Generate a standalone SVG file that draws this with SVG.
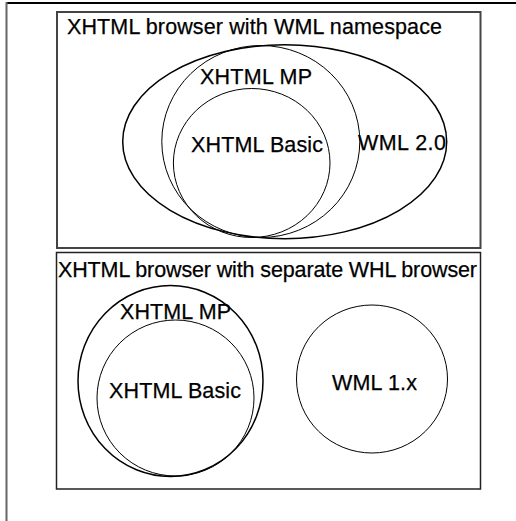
<svg xmlns="http://www.w3.org/2000/svg" width="516" height="521" viewBox="0 0 516 521">
<style>
text{font-family:"Liberation Sans",Arial,sans-serif;font-size:21.5px;fill:#000;stroke:#000;stroke-width:0.25}
.box{fill:none}
.set{fill:none;stroke:#000}
.thick{stroke-width:1.5}
.thin{stroke-width:1}
</style>
<rect width="516" height="521" fill="#fff"/>
<g id="frame">
<line x1="6" y1="3" x2="516" y2="3" stroke="#000" stroke-width="2"/>
<line x1="6.5" y1="2" x2="6.5" y2="521" stroke="#666" stroke-width="2"/>
</g>
<g id="box-namespace">
<rect class="box" x="57" y="12" width="423.5" height="236" stroke="#444" stroke-width="2"/>
<text x="67" y="34" textLength="375">XHTML browser with WML namespace</text>
</g>
<g id="wml20">
<ellipse class="set thick" cx="284.7" cy="141.7" rx="162" ry="97"/>
<text x="358" y="150" textLength="88">WML 2.0</text>
</g>
<g id="xhtmlmp-top">
<ellipse class="set thin" cx="260.8" cy="141.5" rx="99" ry="96"/>
<text x="200" y="84" textLength="112">XHTML MP</text>
</g>
<g id="xhtmlbasic-top">
<ellipse class="set thin" cx="251.7" cy="163" rx="78.3" ry="74.5"/>
<text x="191" y="152" textLength="132">XHTML Basic</text>
</g>
<g id="box-separate">
<rect class="box" x="56.5" y="252.5" width="424" height="236.5" stroke="#222" stroke-width="1.5"/>
<text x="58" y="277" textLength="419">XHTML browser with separate WHL browser</text>
</g>
<g id="xhtmlmp-bottom">
<ellipse class="set thick" cx="170.5" cy="381" rx="92.5" ry="95.5"/>
<text x="120" y="319" textLength="111">XHTML MP</text>
</g>
<g id="xhtmlbasic-bottom">
<ellipse class="set thin" cx="175.5" cy="398" rx="78.5" ry="78"/>
<text x="109" y="398" textLength="132">XHTML Basic</text>
</g>
<g id="wml1x">
<ellipse class="set thin" cx="372" cy="379" rx="75.5" ry="74"/>
<text x="332" y="390" textLength="85">WML 1.x</text>
</g>
</svg>
